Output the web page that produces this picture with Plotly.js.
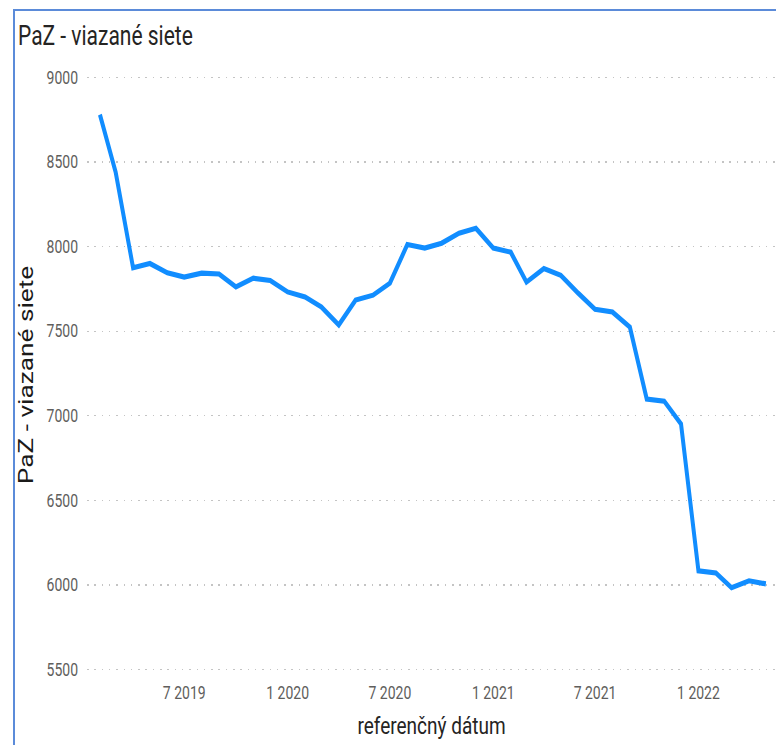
<!DOCTYPE html>
<html>
<head>
<meta charset="utf-8">
<script src="https://cdn.plot.ly/plotly-3.0.1.min.js"></script>
<style>
  html, body { margin: 0; padding: 0; background: #ffffff; overflow: hidden; }
  #wrap { position: relative; width: 776px; height: 745px; overflow: hidden; }
  #chart { position: absolute; left: 0; top: 0; width: 776px; height: 582px;
           transform: scaleY(1.28); transform-origin: 0 0; }
  #frame { position: absolute; left: 13px; top: 9px; width: 780px; height: 760px;
           border-left: 2px solid #5b8bd9; border-top: 2px solid #5b8bd9; pointer-events: none; }
</style>
</head>
<body>
<div id="wrap">
  <div id="chart"></div>
  <div id="frame"></div>
</div>
<script>
// Reference dates (monthly)
const months = [
  '2019-02-01','2019-03-01','2019-04-01','2019-05-01','2019-06-01','2019-07-01',
  '2019-08-01','2019-09-01','2019-10-01','2019-11-01','2019-12-01',
  '2020-01-01','2020-02-01','2020-03-01','2020-04-01','2020-05-01','2020-06-01',
  '2020-07-01','2020-08-01','2020-09-01','2020-10-01','2020-11-01','2020-12-01',
  '2021-01-01','2021-02-01','2021-03-01','2021-04-01','2021-05-01','2021-06-01',
  '2021-07-01','2021-08-01','2021-09-01','2021-10-01','2021-11-01','2021-12-01',
  '2022-01-01','2022-02-01','2022-03-01','2022-04-01','2022-05-01'
];
// PaZ - viazané siete
const values = [
  8780, 8440, 7875, 7900, 7845, 7820,
  7843, 7838, 7762, 7813, 7800,
  7732, 7702, 7643, 7537, 7684, 7713,
  7784, 8012, 7991, 8020, 8079, 8108,
  7991, 7967, 7790, 7870, 7831, 7725,
  7630, 7613, 7524, 7099, 7087, 6952,
  6084, 6072, 5984, 6025, 6007
];
const yTicks = [5500, 6000, 6500, 7000, 7500, 8000, 8500, 9000];
const chartTitle = 'PaZ - viazané siete';
const xTitle = 'referenčný dátum';
const yTitle = 'PaZ - viazané siete';

const trace = {
  x: months,
  y: values,
  type: 'scatter',
  mode: 'lines',
  line: { color: '#118DFF', width: 4 },
  hoverinfo: 'skip'
};

const layout = {
  width: 776,
  height: 582,
  margin: { l: 87, r: 0, t: 55, b: 51 },
  paper_bgcolor: '#ffffff',
  plot_bgcolor: '#ffffff',
  showlegend: false,
  title: {
    text: chartTitle,
    x: 18 / 776, xref: 'container', xanchor: 'left',
    y: 1 - 28 / 582, yref: 'container', yanchor: 'middle',
    font: { family: 'Roboto, "Open Sans", sans-serif', size: 21, color: '#252423' }
  },
  xaxis: {
    type: 'date',
    range: ['2019-01-09', '2022-05-19'],
    tick0: '2019-07-01',
    dtick: 'M6',
    tickformat: '%-m %Y',
    showgrid: false, zeroline: false, showline: false, ticks: '',
    tickfont: { family: 'Roboto, sans-serif', size: 14, color: '#605e5c' },
    title: {
      text: xTitle, standoff: 12,
      font: { family: 'Roboto, sans-serif', size: 19, color: '#252423' }
    }
  },
  yaxis: {
    range: [5441, 9041],
    tickvals: yTicks,
    ticktext: yTicks.map(String),
    showgrid: true, gridcolor: '#c4c4c4', gridwidth: 1, griddash: '1.5px,5.8px',
    zeroline: false, showline: false, ticks: '',
    ticklabelstandoff: 8,
    tickfont: { family: 'Roboto, sans-serif', size: 14, color: '#605e5c' },
    title: {
      text: yTitle, standoff: 7,
      font: { family: 'Roboto, sans-serif', size: 20.5, color: '#1b1a19' }
    }
  },
  hovermode: false
};

Plotly.newPlot('chart', [trace], layout, { displayModeBar: false, staticPlot: true });
</script>
</body>
</html>
